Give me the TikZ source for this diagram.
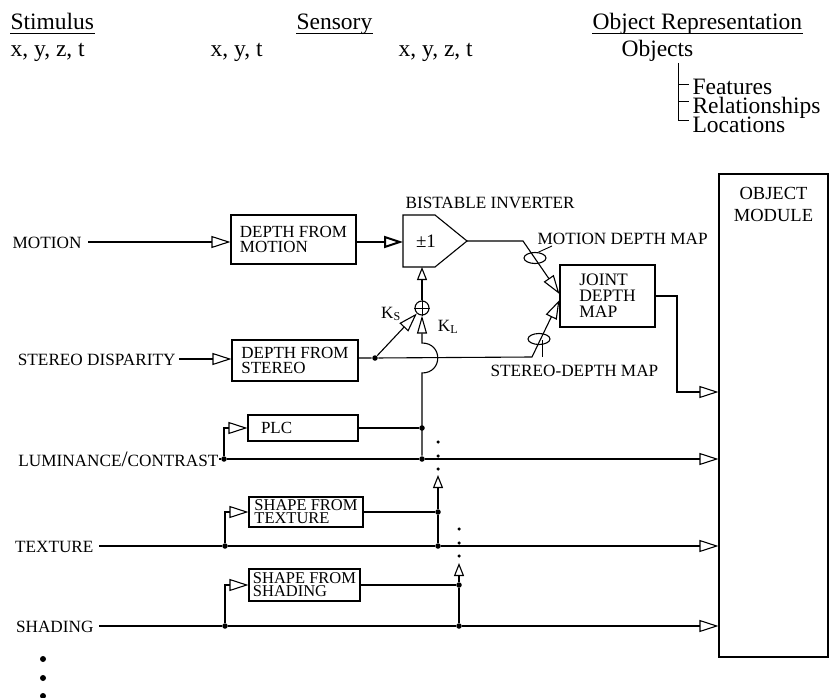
\documentclass[tikz,border=0pt]{standalone}
\usepackage{fontspec}
\setmainfont{Liberation Serif}
\usetikzlibrary{arrows.meta,calc,shapes.geometric}
\begin{document}
\begin{tikzpicture}[x=1pt,y=-1pt,line width=1.1pt,
  lab/.style={font=\fontsize{17.2}{16}\selectfont,inner sep=0pt},
  hdr/.style={font=\fontsize{23.5}{24}\selectfont,inner sep=0pt,anchor=base west},
  box/.style={draw,font=\fontsize{17}{15.5}\selectfont,align=left,inner sep=2pt},
  tbox/.style={draw,font=\fontsize{16.5}{13}\selectfont,align=left,inner sep=1pt},
  big/.style={-{Triangle[open,length=19pt,width=12pt]}},
  small/.style={-{Triangle[open,length=13pt,width=10pt]}},
  kl/.style={-{Triangle[open,length=18pt,width=10pt]}},
  jdot/.style={circle,fill,inner sep=0pt,minimum size=5.5pt},
  edot/.style={circle,fill,inner sep=0pt,minimum size=3.5pt},
  bdot/.style={circle,fill,inner sep=0pt,minimum size=6pt},
  ring/.style={draw,ellipse,inner sep=0pt,minimum width=22pt,minimum height=11pt},
  uline/.style={line width=0.9pt}]
\useasboundingbox (0,0) rectangle (833,698);

% ---------- header ----------
\node[hdr] (stim) at (10,30) {Stimulus};
\draw[uline] ($(stim.base west)+(0,3)$) -- ($(stim.base east)+(0,3)$);
\node[hdr] (xyzta) at (10,57) {x, y, z, t};
\node[hdr] (xyt) at (210,57) {x, y, t};
\node[hdr] (sens) at (296,30) {Sensory};
\draw[uline] ($(sens.base west)+(0,3)$) -- ($(sens.base east)+(0,3)$);
\node[hdr] (xyztb) at (398,57) {x, y, z, t};
\node[hdr] (objrep) at (592,30) {Object Representation};
\draw[uline] ($(objrep.base west)+(0,3)$) -- ($(objrep.base east)+(0,3)$);
\node[hdr] (objs) at (621,57) {Objects};
\node[hdr] (feat) at (692,95) {Features};
\node[hdr] (rel) at (692,114) {Relationships};
\node[hdr] (loc) at (692,133) {Locations};
\coordinate (tree) at (678,63);
\draw[line width=0.8pt] (tree) |- ($(loc.base west)+(-3,-13)$);
\draw[line width=0.8pt] (tree |- feat.base) ++(0,-11) -- ($(feat.base west)+(-3,-11)$);
\draw[line width=0.8pt] (tree |- rel.base) ++(0,-13) -- ($(rel.base west)+(-3,-13)$);

% ---------- boxes ----------
\node[box,minimum width=125pt,minimum height=49pt] (dfm) at (293.5,239.5) {DEPTH FROM\\MOTION};
\node[box,minimum width=126pt,minimum height=41pt] (dfs) at (295,360.5) {DEPTH FROM\\STEREO};
\node[box,minimum width=95pt,minimum height=62pt,font=\fontsize{17.5}{16}\selectfont] (joint) at (607.5,296) {JOINT\\DEPTH\\MAP};
\node[draw,minimum width=109pt,minimum height=483pt,inner sep=0pt] (objm) at (773.5,415.5) {};
\node[font=\fontsize{18.5}{22}\selectfont,align=center,anchor=north,inner sep=0pt] (objt) at (773.5,187) {OBJECT\\MODULE};
\node[draw,font=\fontsize{17}{15}\selectfont,text width=84pt,inner xsep=13pt,inner ysep=0pt,minimum height=26pt] (plc) at (303,428) {PLC};
\node[tbox,minimum width=114pt,minimum height=30pt] (sft) at (306,512) {SHAPE FROM\\TEXTURE};
\node[tbox,minimum width=111pt,minimum height=32pt] (sfs) at (304.5,585) {SHAPE FROM\\SHADING};

% inverter
\draw (403,215) -- (435,215) -- (467,241) -- (435,267) -- (403,267) -- cycle;
\node[lab,font=\fontsize{19}{19}\selectfont] (pm) at (426,241) {±1};
\coordinate (invin) at (403,242);
\coordinate (invout) at (467,241);
\coordinate (invbot) at (422,267);
\node[lab,anchor=base west] (bist) at (405,208) {BISTABLE INVERTER};

% summation
\node[draw,circle,minimum size=14pt,inner sep=0pt] (sum) at (422,308) {};
\draw[line width=0.9pt] (sum.north) -- (sum.south) (sum.west) -- (sum.east);
\node[lab] (ks) at (391,314) {K\textsubscript{S}};
\node[lab] (kl) at (448,327) {K\textsubscript{L}};

% ---------- input labels ----------
\node[lab,anchor=base east] (motion) at (82,248) {MOTION};
\node[lab,anchor=base east] (stereo) at (176,365) {STEREO DISPARITY};
\node[lab,anchor=base east] (lum) at (219,466) {LUMINANCE{\fontsize{22}{22}\selectfont/}CONTRAST};
\node[lab,anchor=base east] (tex) at (94,552) {TEXTURE};
\node[lab,anchor=base east] (shad) at (94,632) {SHADING};

% junction dots
\node[jdot] (stdot) at (375,358) {};
\node[jdot] (ld1) at (224,459) {};
\node[jdot] (ld2) at (422,459) {};
\node[jdot] (pd) at (422,428) {};
\node[jdot] (td1) at (225,546) {};
\node[jdot] (td2) at (438,546) {};
\node[jdot] (td3) at (438,512) {};
\node[jdot] (sd1) at (225,626) {};
\node[jdot] (sd2) at (459,626) {};
\node[jdot] (sd3) at (459,585) {};

% ---------- connectors ----------
\coordinate (mline) at (88,242);
\draw[big] (mline) -- (dfm.west |- mline);
\draw[big,line width=2pt] (dfm.east |- invin) -- (invin);
\coordinate (mb) at (523,241);
\draw[big] (invout) -- (mb) -- ($(joint.west)+(0,-2)$);
\coordinate (sline) at (179,359);
\draw[big] (sline) -- (dfs.west |- sline);
\coordinate (sb) at (532,357);
\draw[big] (dfs.east |- stdot) -- (stdot) -- (sb) -- ($(joint.west)+(0,4)$);
\draw[big] (stdot) -- (sum);
\draw[small] (sum) -- (invbot);
\draw[kl] (ld2) -- (422,373) .. controls (443,373) and (443,343) .. (422,343) -- (sum);

% depth map rings
\node[ring] (mring) at (535,258) {};
\node[lab,anchor=base west] (mdm) at (537,244) {MOTION DEPTH MAP};
\draw[line width=0.9pt] (mring.60) -- (552,246);
\node[ring] (sring) at (539,339) {};
\draw[line width=0.9pt] (542,340) -- (542,357);
\node[lab,anchor=base west] (sdm) at (490,376) {STEREO-DEPTH MAP};

% joint output
\coordinate (jo) at (677,392);
\draw[big] (joint.east) -| (jo) -- (objm.west |- jo);

% luminance
\draw (lum.east |- ld1) -- (ld1);
\draw[big] (ld1) -- (ld2) -- (objm.west |- ld2);
\draw[big] (ld1) |- (plc.west);
\draw (plc.east) -- (pd);

% texture
\draw ($(tex.east |- td1)+(5,0)$) -- (td1);
\draw[big] (td1) -- (td2) -- (objm.west |- td2);
\draw[big] (td1) |- (sft.west);
\draw (sft.east) -- (td3);
\coordinate (ta) at (438,475);
\draw[small] (td2) -- (td3) -- (ta);
\node[edot] at (438,442) {};
\node[edot] at (438,456) {};
\node[edot] at (438,469) {};

% shading
\draw ($(shad.east |- sd1)+(5,0)$) -- (sd1);
\draw[big] (sd1) -- (sd2) -- (objm.west |- sd2);
\draw[big] (sd1) |- (sfs.west);
\draw (sfs.east) -- (sd3);
\coordinate (sa) at (459,563);
\draw[small] (sd2) -- (sd3) -- (sa);
\node[edot] at (459,529) {};
\node[edot] at (459,543) {};
\node[edot] at (459,556) {};

% more inputs
\node[bdot] at (43,659) {};
\node[bdot] at (43,678) {};
\node[bdot] at (43,696) {};
\end{tikzpicture}
\end{document}
